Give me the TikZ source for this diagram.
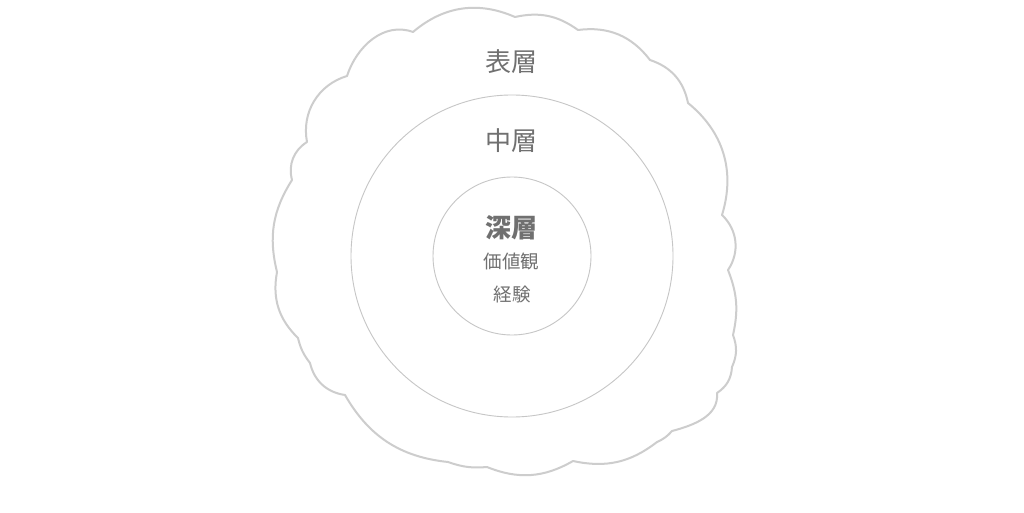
\documentclass[tikz,border=0pt]{standalone}
\usepackage{fontspec}
\newfontfamily\jp{Noto Sans CJK JP}
\definecolor{txt}{HTML}{707070}
\definecolor{cloudc}{HTML}{CDCDCD}
\definecolor{ringc}{HTML}{C6C6C6}
\tikzset{
  cloudline/.style={draw=cloudc, line width=2pt, line join=round},
  ring/.style={circle, draw=ringc, line width=0.9pt, inner sep=0pt},
  lbl/.style={text=txt, inner sep=0pt, font=\jp\fontsize{26}{30}\selectfont},
  sublbl/.style={text=txt, inner sep=0pt, font=\jp\fontsize{18.5}{22}\selectfont}
}
\begin{document}
\begin{tikzpicture}[x=1pt,y=1pt]
\useasboundingbox (0,0) rectangle (1024,512);
\fill[white] (0,0) rectangle (1024,512);
% cloud cusps (canvas coordinates)
\coordinate (c1) at (413,480);
\coordinate (c2) at (515,495);
\coordinate (c3) at (578,482);
\coordinate (c4) at (650,452);
\coordinate (c5) at (688,409);
\coordinate (c6) at (722,297);
\coordinate (c7) at (728,242);
\coordinate (c8) at (733,177);
\coordinate (c9) at (732,145);
\coordinate (c10) at (717,119);
\coordinate (c11) at (672,81);
\coordinate (c11b) at (657,70);
\coordinate (c12) at (573,51);
\coordinate (c13) at (487,45);
\coordinate (c14) at (448,50);
\coordinate (c15) at (345,117);
\coordinate (c16) at (310,149);
\coordinate (c17) at (298,174);
\coordinate (c18) at (277,240);
\coordinate (c19) at (292,332);
\coordinate (c20) at (307,370);
\coordinate (c21) at (347,436);
\path[cloudline]
  (c1) to[bend left=32] (c2)
  to[bend left=24] (c3)
  to[bend left=30] (c4)
  to[bend left=30] (c5)
  to[bend left=34] (c6)
  to[bend left=40] (c7)
  to[bend left=17] (c8)
  to[bend left=22] (c9)
  to[bend left=26] (c10)
  to[out=-85,in=15] (c11)
  to[bend left=12] (c11b)
  to[bend left=25] (c12)
  to[bend left=26] (c13)
  to[bend left=12] (c14)
  to[bend left=27] (c15)
  to[bend left=34] (c16)
  to[bend left=12] (c17)
  to[bend left=28] (c18)
  to[bend left=23] (c19)
  to[bend left=36] (c20)
  to[bend left=42] (c21)
  to[out=72,in=160] (c1)
  -- cycle;
% rings
\node[ring, minimum size=322pt] (mid) at (512,256) {};
\node[ring, minimum size=158pt] (core) at (512,256) {};
% labels
\node[lbl] (surface) at (511,450) {表層};
\node[lbl] (middle) at (511,371) {中層};
\node[lbl, font=\jp\bfseries\fontsize{26}{30}\selectfont] (deep) at (511,284.5) {深層};
\node[sublbl] (values) at (511.5,251) {価値観};
\node[sublbl] (exper) at (512,218) {経験};
\end{tikzpicture}
\end{document}
